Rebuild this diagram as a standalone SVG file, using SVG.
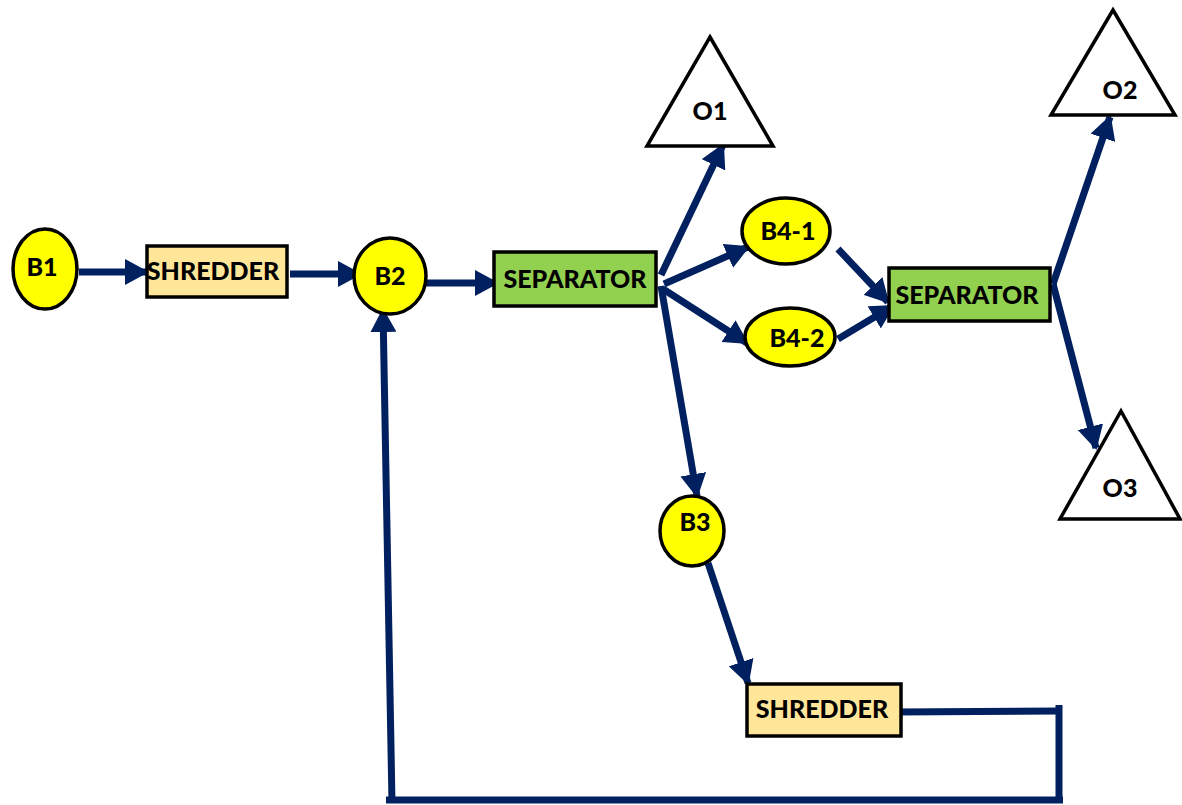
<svg xmlns="http://www.w3.org/2000/svg" width="1182" height="805" viewBox="0 0 1182 805">
  <style>
    .bin { fill: #FFFF00; stroke: #000; stroke-width: 3.5; }
    .shred { fill: #FFE699; stroke: #000; stroke-width: 3.5; }
    .sep { fill: #92D050; stroke: #000; stroke-width: 3.5; }
    .out { fill: #fff; stroke: #000; stroke-width: 3.5; stroke-linejoin: miter; }
    .lbl { font-family: Lato, "Open Sans", "Liberation Sans", sans-serif; font-weight: 900; font-size: 25px; fill: #000; text-anchor: middle; }
    .flow { fill: none; stroke: #002060; stroke-width: 7; }
  </style>
  <defs>
    <marker id="head" markerUnits="userSpaceOnUse" markerWidth="24" markerHeight="26" viewBox="0 0 24 26" refX="22" refY="13" orient="auto">
      <path d="M0,0 L24,13 L0,26 Z" fill="#002060"/>
    </marker>
  </defs>

  <g id="connectors">
    <line class="flow" x1="79" y1="272" x2="147" y2="272" marker-end="url(#head)"/>
    <line class="flow" x1="290" y1="274" x2="360" y2="274" marker-end="url(#head)"/>
    <line class="flow" x1="421" y1="283" x2="497" y2="283" marker-end="url(#head)"/>
    <line class="flow" x1="661" y1="275" x2="723" y2="145" marker-end="url(#head)"/>
    <line class="flow" x1="664" y1="284" x2="748" y2="247" marker-end="url(#head)"/>
    <line class="flow" x1="663" y1="289" x2="747" y2="343" marker-end="url(#head)"/>
    <line class="flow" x1="661" y1="286" x2="697" y2="496" marker-end="url(#head)"/>
    <line class="flow" x1="838" y1="249" x2="888" y2="302" marker-end="url(#head)"/>
    <line class="flow" x1="838" y1="339" x2="893" y2="306" marker-end="url(#head)"/>
    <line class="flow" x1="1053" y1="284" x2="1110" y2="117" marker-end="url(#head)"/>
    <line class="flow" x1="1053" y1="284" x2="1096" y2="448" marker-end="url(#head)"/>
    <line class="flow" x1="708" y1="563" x2="748" y2="683" marker-end="url(#head)"/>
    <!-- recycle loop back to B2 -->
    <polyline class="flow" points="897,712 1059,711"/>
    <line class="flow" x1="1059" y1="705" x2="1059" y2="803"/>
    <line class="flow" x1="386" y1="800" x2="1063" y2="800"/>
    <line class="flow" x1="392" y1="803" x2="383" y2="310" marker-end="url(#head)"/>
  </g>

  <g id="B1">
    <ellipse class="bin" cx="45" cy="269" rx="32" ry="40"/>
    <text class="lbl" x="42" y="276">B1</text>
  </g>
  <g id="shredder1">
    <rect class="shred" x="147" y="246" width="140" height="51"/>
    <text class="lbl" x="213" y="280">SHREDDER</text>
  </g>
  <g id="B2">
    <ellipse class="bin" cx="390" cy="276" rx="36" ry="38"/>
    <text class="lbl" x="390" y="285">B2</text>
  </g>
  <g id="separator1">
    <rect class="sep" x="494" y="252" width="162" height="54"/>
    <text class="lbl" x="575" y="288">SEPARATOR</text>
  </g>
  <g id="O1">
    <polygon class="out" points="710,37 773,146 647,146"/>
    <text class="lbl" x="710" y="120">O1</text>
  </g>
  <g id="B4-1">
    <ellipse class="bin" cx="786" cy="231" rx="44" ry="33"/>
    <text class="lbl" x="788" y="240">B4-1</text>
  </g>
  <g id="B4-2">
    <ellipse class="bin" cx="790" cy="337" rx="45" ry="29"/>
    <text class="lbl" x="797" y="347">B4-2</text>
  </g>
  <g id="separator2">
    <rect class="sep" x="889" y="268" width="161" height="53"/>
    <text class="lbl" x="967" y="304">SEPARATOR</text>
  </g>
  <g id="O2">
    <polygon class="out" points="1113,10 1175,115 1051,115"/>
    <text class="lbl" x="1120" y="99">O2</text>
  </g>
  <g id="O3">
    <polygon class="out" points="1121,411 1180,519 1060,519"/>
    <text class="lbl" x="1120" y="497">O3</text>
  </g>
  <g id="B3">
    <ellipse class="bin" cx="692" cy="531" rx="32" ry="35"/>
    <text class="lbl" x="695" y="531">B3</text>
  </g>
  <g id="shredder2">
    <rect class="shred" x="747" y="684" width="154" height="52"/>
    <text class="lbl" x="822" y="718">SHREDDER</text>
  </g>
</svg>
